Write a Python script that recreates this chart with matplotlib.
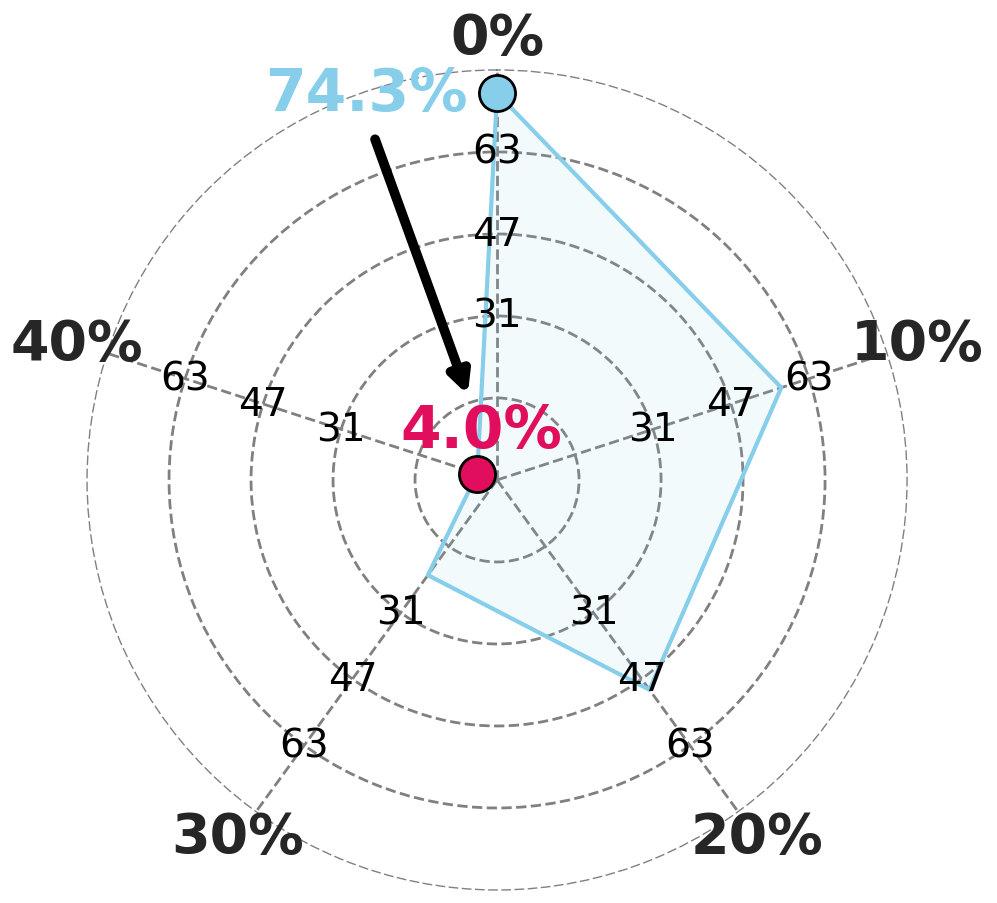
import numpy as np
import matplotlib

matplotlib.use("Agg")
import matplotlib.pyplot as plt

categories = ["0%", "10%", "20%", "30%", "40%"]
values = [74.3, 57.4, 49.8, 22.6, 4.0]
r_max = 78.75
ring_values = [15.75, 31.5, 47.25, 63.0]
ring_labels = ["31", "47", "63"]
label_rings = [31.5, 47.25, 63.0]

LINE = "#87CEEB"
HIGHLIGHT = "#E00E5C"
TEXT = "#262626"

angles = np.deg2rad(np.arange(len(categories)) * 360 / len(categories))

fig = plt.figure(figsize=(9.97, 9.04), dpi=100)
ax = fig.add_axes([0.0873, 0.0144, 0.8225, 0.9071], polar=True)
ax.set_theta_offset(np.pi / 2)
ax.set_theta_direction(-1)
ax.set_ylim(0, r_max)

ax.set_xticks(angles)
ax.set_xticklabels([])
ax.set_yticks(ring_values)
ax.set_yticklabels([])
ax.xaxis.grid(True, color="gray", linestyle="--", linewidth=2)
ax.yaxis.grid(True, color="gray", linestyle="--", linewidth=2)
ax.spines["polar"].set_linestyle((0, (6, 3.5)))
ax.spines["polar"].set_linewidth(1)
ax.spines["polar"].set_color("gray")

closed_a = np.append(angles, angles[0])
closed_v = np.append(values, values[0])
ax.fill(closed_a, closed_v, color=LINE, alpha=0.1, zorder=2)
ax.plot(closed_a, closed_v, color=LINE, linewidth=3, zorder=3)

# tick values written along every spoke
for a in angles:
    for rv, lab in zip(label_rings, ring_labels):
        ax.text(a, rv, lab, fontsize=28, ha="center", va="center",
                color="black", zorder=4)

# category names outside the outer ring
for a, cat in zip(angles, categories):
    ax.text(a, r_max * 1.077, cat, fontsize=40, fontweight="bold",
            ha="center", va="center", color=TEXT)

i_max = int(np.argmax(values))
i_min = int(np.argmin(values))
ax.plot(angles[i_max], values[i_max], "o", ms=26, mfc=LINE, mec="black",
        mew=2, zorder=5)
ax.plot(angles[i_min], values[i_min], "o", ms=26, mfc=HIGHLIGHT, mec="black",
        mew=2, zorder=5)

ax.annotate(f"{values[i_max]}%", xy=(angles[i_max], values[i_max]),
            xytext=(-21, 0), textcoords="offset points", ha="right",
            va="center", fontsize=42, fontweight="bold", color=LINE)
ax.annotate(f"{values[i_min]}%", xy=(angles[i_min], values[i_min]),
            xytext=(3, 31), textcoords="offset points", ha="center",
            va="center", fontsize=42, fontweight="bold", color=HIGHLIGHT)

ax.annotate("", xy=(np.deg2rad(341), 17.3), xytext=(np.deg2rad(340.3), 69.5),
            arrowprops=dict(arrowstyle="-|>,head_length=1.2,head_width=0.6",
                            color="black", lw=7, shrinkA=0, shrinkB=0),
            zorder=6)

fig.savefig("out.png", dpi=100)
